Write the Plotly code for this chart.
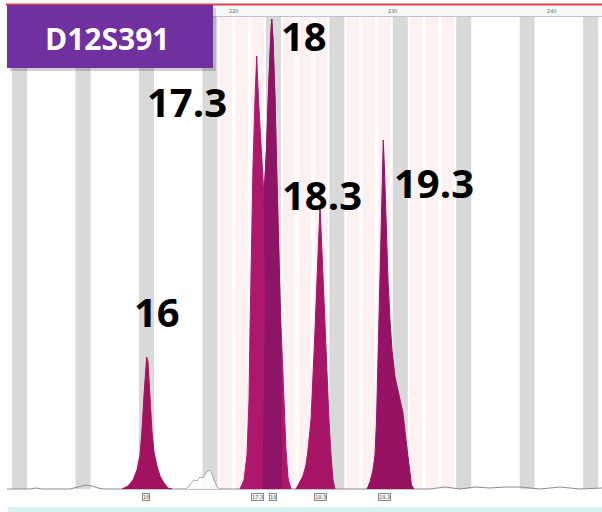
import plotly.graph_objects as go

# ---- sizing calibration (bp) ----
BP_ALLELE_16 = 214.46
BP_PER_REPEAT = 4.0
BIN_HALF_WIDTH = 0.473
VBIN_HALF_WIDTH = 0.39

locus_name = "D12S391"

# allelic ladder bins and virtual (.x) bins
ladder_alleles = ["14", "15", "16", "17", "18", "19", "20", "21", "22", "23"]
virtual_alleles = ["17.1", "17.2", "17.3", "18.1", "18.2", "18.3",
                   "19.1", "19.2", "19.3", "20.1", "20.2", "20.3"]

# size axis ticks in the header band
size_ticks = [220, 230, 240]

# baseline signal (bp, RFU)
baseline_bp = [205.666, 207.116, 207.494, 207.872, 209.638, 210.142, 210.646,
               211.024, 211.403, 211.781, 232.333, 233.278, 234.224, 235.170,
               236.115, 237.061, 238.006, 239.267, 240.528, 241.789, 243.176]
baseline_rfu = [0, 0, 5, 0, 0, 10, 20, 15, 5, 0, 0, 10, 0, 10, 5, 10, 10, 0, 10, 0, 5]

# sub-threshold artefact left of bin 17
noise_bp = [216.950, 217.203, 217.455, 217.644, 217.833, 218.022, 218.211,
            218.400, 218.590, 218.716, 218.905, 219.094]
noise_rfu = [0, 20, 45, 40, 60, 55, 80, 95, 75, 45, 10, 0]

# allele 16 peak
peak16_bp = [212.916, 213.294, 213.609, 213.861, 214.050, 214.177, 214.303, 214.473,
             214.555, 214.681, 214.807, 214.933, 215.122, 215.311, 215.564, 215.816, 216.068]
peak16_rfu = [0, 15, 45, 95, 170, 295, 470, 660, 635, 445, 285, 185, 115, 65, 30, 5, 0]

# alleles 17.3 + 18 (overlapping pair)
peak17_18_bp = [220.355, 220.607, 220.796, 220.922, 220.985, 221.092, 221.174, 221.300,
                221.407, 221.521, 221.679, 221.868, 222.025, 222.151, 222.277, 222.353,
                222.435, 222.561, 222.656, 222.750, 222.876, 223.002, 223.128, 223.255,
                223.381, 223.570]
peak17_18_rfu = [0, 45, 170, 445, 795, 1280, 1610, 1945, 2165, 1945, 1695, 1460, 1695,
                 1995, 2245, 2350, 2245, 1945, 1595, 1280, 945, 695, 445, 195, 55, 0]

# allele 18 body
peak18_bp = [221.805, 221.868, 221.962, 221.868, 222.025, 222.151, 222.277, 222.353,
             222.435, 222.561, 222.656, 222.750, 222.876, 222.939, 222.971]
peak18_rfu = [0, 445, 945, 1460, 1695, 1995, 2245, 2350, 2245, 1945, 1595, 1280, 945, 445, 0]

# allele 18.3 peak
peak18_3_bp = [223.885, 224.074, 224.326, 224.515, 224.642, 224.831, 224.957, 225.083,
               225.209, 225.303, 225.398, 225.492, 225.587, 225.713, 225.839, 225.965,
               226.091, 226.218, 226.344]
peak18_3_rfu = [0, 25, 65, 120, 195, 345, 545, 795, 1045, 1245, 1415, 1245, 1045, 795,
                545, 345, 170, 45, 0]

# allele 19.3 peak
peak19_3_bp = [228.361, 228.550, 228.739, 228.865, 228.960, 229.023, 229.073, 229.149,
               229.244, 229.326, 229.389, 229.464, 229.559, 229.685, 229.811, 229.937,
               230.126, 230.378, 230.630, 230.820, 231.009, 231.166, 231.324]
peak19_3_rfu = [0, 35, 95, 170, 345, 545, 795, 1045, 1345, 1595, 1745, 1595, 1345, 1045,
                845, 695, 560, 470, 380, 245, 120, 20, 0]

# called alleles and their peak heights (RFU)
called_alleles = ["16", "17.3", "18", "18.3", "19.3"]
called_rfu = [660, 2165, 2350, 1415, 1745]


def allele_bp(name):
    parts = name.split(".")
    repeats = int(parts[0]) + (int(parts[1]) / 4 if len(parts) > 1 else 0)
    return BP_ALLELE_16 + (repeats - 16) * BP_PER_REPEAT


X_RANGE = [205.666, 243.176]
Y_RANGE = [-55, 2360]

fig = go.Figure()

fig.add_trace(go.Scatter(x=baseline_bp, y=baseline_rfu, mode="lines",
                         line=dict(color="#8c8c8c", width=1), hoverinfo="skip"))
fig.add_trace(go.Scatter(x=noise_bp, y=noise_rfu, mode="lines", fill="toself",
                         fillcolor="rgba(255,255,255,0.85)",
                         line=dict(color="#a8a8a8", width=1), hoverinfo="skip"))

peak_styles = [
    (peak16_bp, peak16_rfu, "#A3125F"),
    (peak17_18_bp, peak17_18_rfu, "#AE186C"),
    (peak18_bp, peak18_rfu, "#8E1466"),
    (peak18_3_bp, peak18_3_rfu, "#A81566"),
    (peak19_3_bp, peak19_3_rfu, "#981263"),
]
for xs, ys, col in peak_styles:
    fig.add_trace(go.Scatter(x=xs, y=ys, mode="lines", fill="toself", fillcolor=col,
                             line=dict(color=col, width=1), hoverinfo="skip"))

shapes = []
# virtual bins (pale pink)
for a in virtual_alleles:
    c = allele_bp(a)
    shapes.append(dict(type="rect", xref="x", yref="y", x0=c - VBIN_HALF_WIDTH,
                       x1=c + VBIN_HALF_WIDTH, y0=0, y1=Y_RANGE[1],
                       fillcolor="#fdf2f1", line=dict(width=0), layer="below"))
# ladder bins (grey)
for a in ladder_alleles:
    c = allele_bp(a)
    shapes.append(dict(type="rect", xref="x", yref="y", x0=c - BIN_HALF_WIDTH,
                       x1=c + BIN_HALF_WIDTH, y0=0, y1=Y_RANGE[1],
                       fillcolor="#d9d9d9", line=dict(width=0), layer="below"))

# header band with size scale
shapes.append(dict(type="rect", xref="paper", yref="paper", x0=0, x1=1,
                   y0=1.0, y1=1.0238, fillcolor="#f4faf7",
                   line=dict(width=0), layer="above"))
shapes.append(dict(type="line", xref="paper", yref="paper", x0=0, x1=1,
                   y0=1.001, y1=1.001, line=dict(color="#c8bfd2", width=1)))
shapes.append(dict(type="line", xref="paper", yref="paper", x0=-0.002, x1=1,
                   y0=1.0259, y1=1.0259, line=dict(color="#d9404a", width=2)))
# footer strip
shapes.append(dict(type="rect", xref="paper", yref="paper", x0=0.002, x1=1,
                   y0=-0.0248, y1=-0.0145, fillcolor="#dbf2f2",
                   line=dict(width=0)))
# locus label box with shadow
shapes.append(dict(type="rect", xref="paper", yref="paper", x0=0.005, x1=0.351,
                   y0=0.888, y1=1.018, fillcolor="rgba(0,0,0,0.18)",
                   line=dict(width=0)))
shapes.append(dict(type="rect", xref="paper", yref="paper", x0=0, x1=0.3462,
                   y0=0.8944, y1=1.0248, fillcolor="#7030A0",
                   line=dict(width=0)))

annotations = []
for t in size_ticks:
    annotations.append(dict(x=t, y=1.0125, xref="x", yref="paper", text=str(t),
                            showarrow=False, xanchor="center", yanchor="middle",
                            font=dict(size=5, color="#666666", family="DejaVu Sans")))

annotations.append(dict(x=0.1697, y=0.9565, xref="paper", yref="paper",
                        text="<b>" + locus_name + "</b>", showarrow=False,
                        xanchor="center", yanchor="middle",
                        font=dict(family="Open Sans", size=30, color="white")))

# allele call boxes under the baseline
for a in called_alleles:
    annotations.append(dict(x=allele_bp(a), y=-40, xref="x", yref="y", text=a,
                            showarrow=False, bgcolor="#f2f2f2",
                            bordercolor="#8a8a8a", borderwidth=1, borderpad=0,
                            font=dict(size=5, color="#666666", family="DejaVu Sans")))

# big allele labels next to each peak (pixel offsets)
label_shift = {"16": (11, 46), "17.3": (-71, -45), "18": (31, -16),
               "18.3": (1, 12), "19.3": (50, -42)}
for a, h in zip(called_alleles, called_rfu):
    dx, dy = label_shift[a]
    annotations.append(dict(x=allele_bp(a), y=h, xref="x", yref="y",
                            text="<b>" + a + "</b>", showarrow=False,
                            xshift=dx, yshift=dy, xanchor="center", yanchor="middle",
                            font=dict(family="Open Sans", size=40, color="black")))

fig.update_layout(
    width=602, height=512,
    margin=dict(l=7, r=0, t=17, b=12),
    plot_bgcolor="white", paper_bgcolor="white",
    showlegend=False,
    xaxis=dict(range=X_RANGE, visible=False, showgrid=False, zeroline=False),
    yaxis=dict(range=Y_RANGE, visible=False, showgrid=False, zeroline=False),
    shapes=shapes,
    annotations=annotations,
)

fig.write_html("out.html")
